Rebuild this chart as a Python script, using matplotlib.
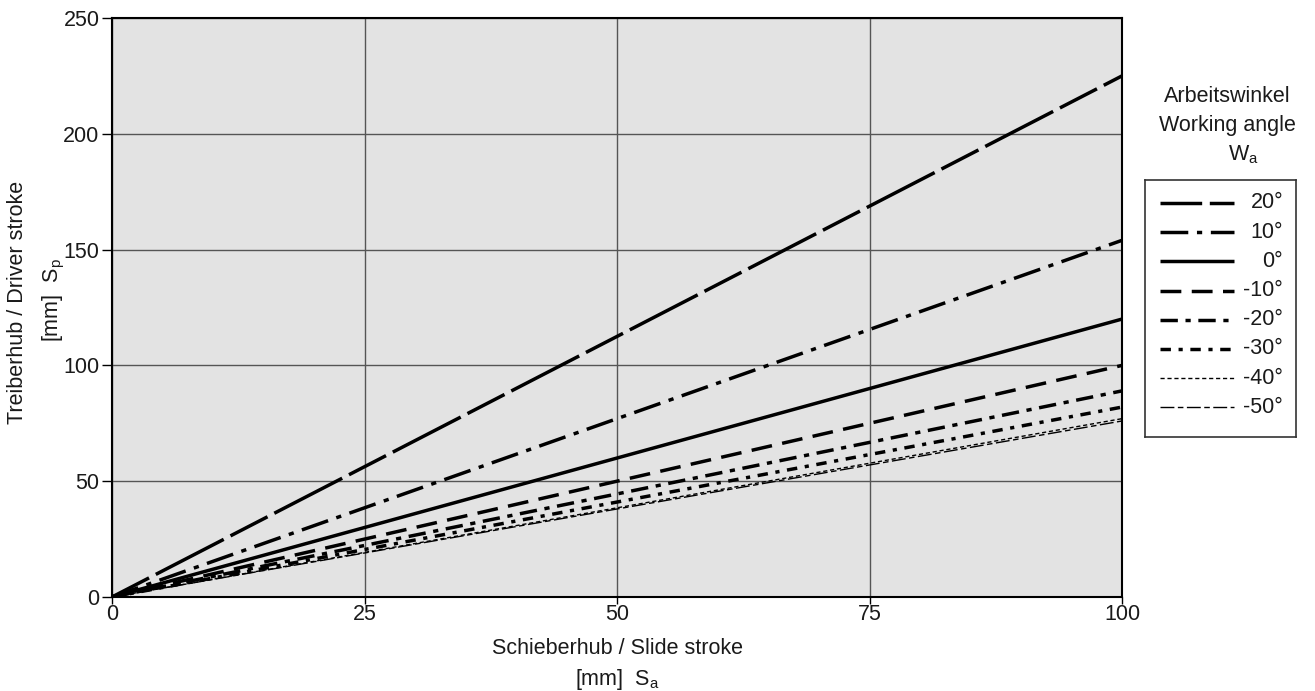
import matplotlib
matplotlib.use("Agg")
import matplotlib.pyplot as plt
from matplotlib.lines import Line2D

plt.rcParams['font.family'] = ['Liberation Sans', 'DejaVu Sans']
plt.rcParams['mathtext.fontset'] = 'custom'
plt.rcParams['mathtext.rm'] = 'Liberation Sans'
plt.rcParams['mathtext.it'] = 'Liberation Sans'

# Data
angles = ["20°", "10°", "0°", "-10°", "-20°", "-30°", "-40°", "-50°"]
slide_stroke = [0, 100]
driver_end = [225, 154, 120, 100, 89, 82, 77, 76]
x_ticks = [0, 25, 50, 75, 100]
y_ticks = [0, 50, 100, 150, 200, 250]

styles = [
    dict(lw=2.5, dashes=(12, 2.2, 22, 2.2)),
    dict(lw=2.5, dashes=(8, 2.5, 1.5, 2.5)),
    dict(lw=2.5, ls='-'),
    dict(lw=2.5, dashes=(6, 3)),
    dict(lw=2.5, dashes=(5, 2.2, 1.5, 2.2)),
    dict(lw=2.5, dashes=(3, 2.2, 1.2, 2.2)),
    dict(lw=1.0, dashes=(3, 2)),
    dict(lw=1.0, dashes=(10, 2.5, 4, 2.5)),
]

FS = 15.5
TC = '#1a1a1a'

fig = plt.figure(figsize=(13.15, 6.91), dpi=100)
ax = fig.add_axes([112/1315, 1-597/691, (1122-112)/1315, (597-18)/691])
ax.set_facecolor('#e3e3e3')

for end, st in zip(driver_end, styles):
    ax.plot(slide_stroke, [0, end], color='black', solid_capstyle='butt',
            dash_capstyle='butt', zorder=3, **st)

ax.set_xlim(0, 100)
ax.set_ylim(0, 250)
ax.set_xticks(x_ticks)
ax.set_yticks(y_ticks)
ax.grid(True, color='#555555', lw=1.0, zorder=1)
ax.set_axisbelow(True)
for sp in ax.spines.values():
    sp.set_linewidth(1.5)
    sp.set_color('black')
ax.tick_params(axis='both', labelsize=FS, width=1.0, color='black',
               direction='out', labelcolor=TC)
ax.tick_params(axis='x', length=5, pad=0)
ax.tick_params(axis='y', length=7, pad=2)

fig.text(617/1315, 1-648/691, "Schieberhub / Slide stroke", fontsize=FS,
         ha='center', va='center', color=TC)
fig.text(617/1315, 1-679/691, r"[mm]  S$_\mathrm{a}$", fontsize=FS,
         ha='center', va='center', color=TC)
fig.text(18/1315, 1-302/691, "Treiberhub / Driver stroke", rotation=90,
         fontsize=FS, ha='center', va='center', color=TC)
fig.text(54/1315, 1-300/691, r"[mm]  S$_\mathrm{p}$", rotation=90,
         fontsize=FS, ha='center', va='center', color=TC)

# Legend title
fig.text(1227/1315, 1-97/691, "Arbeitswinkel", fontsize=FS,
         ha='center', va='center', color=TC)
fig.text(1227/1315, 1-126/691, "Working angle", fontsize=FS,
         ha='center', va='center', color=TC)
fig.text(1243/1315, 1-155/691, r"W$_\mathrm{a}$", fontsize=FS,
         ha='center', va='center', color=TC)

# Legend box (manual), axes in pixel-like coords
L, R, T, B = 1145, 1296, 180, 437
lax = fig.add_axes([L/1315, 1-B/691, (R-L)/1315, (B-T)/691])
lax.set_xlim(L, R)
lax.set_ylim(B, T)
lax.set_xticks([])
lax.set_yticks([])
for sp in lax.spines.values():
    sp.set_linewidth(1.2)
    sp.set_color('#333333')
for i, (lab, st) in enumerate(zip(angles, styles)):
    y = 203 + i * 29.2
    lax.add_line(Line2D([1160, 1234], [y, y], color='black',
                        solid_capstyle='butt', dash_capstyle='butt', **st))
    lax.text(1283, y, lab, fontsize=FS, ha='right', va='center', color=TC)

fig.savefig("out.png", dpi=100)
